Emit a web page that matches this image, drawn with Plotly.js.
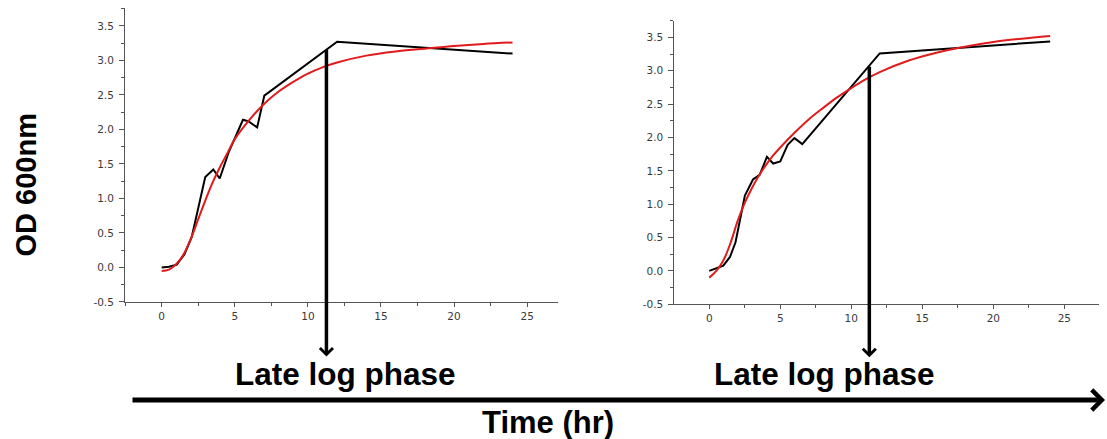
<!DOCTYPE html>
<html>
<head>
<meta charset="utf-8">
<script src="https://cdn.plot.ly/plotly-3.0.1.min.js"></script>
<style>html,body{margin:0;padding:0;background:#fff;}#chart{width:1107px;height:439px;}</style>
</head>
<body>
<div id="chart"></div>
<script>
// ---- data ----
const leftTime  = [0, 0.5, 1.03, 1.55, 2.05, 2.98, 3.53, 3.97, 4.6, 5.56, 5.92, 6.53, 7.02, 12.0, 24.0];
const leftOD    = [0.0, 0.01, 0.04, 0.19, 0.44, 1.31, 1.42, 1.29, 1.68, 2.14, 2.12, 2.03, 2.49, 3.27, 3.10];
const fitTime   = [0, 0.5, 1, 1.5, 2, 2.5, 3, 3.5, 4, 4.5, 5, 6, 7, 8, 9, 10, 11, 12, 14, 16, 18, 20, 22, 24];
const leftFit   = [-0.05, -0.03, 0.05, 0.19, 0.42, 0.70, 0.98, 1.24, 1.46, 1.66, 1.86, 2.14, 2.37, 2.55, 2.69, 2.81, 2.90, 2.97, 3.07, 3.13, 3.17, 3.21, 3.24, 3.26];
const rightTime = [0, 0.99, 1.46, 1.85, 2.51, 3.08, 3.55, 4.06, 4.5, 5.0, 5.52, 6.0, 6.55, 12.0, 24.0];
const rightOD   = [0.0, 0.08, 0.21, 0.43, 1.13, 1.37, 1.44, 1.71, 1.61, 1.64, 1.89, 1.99, 1.90, 3.26, 3.44];
const rightFit  = [-0.10, 0.00, 0.16, 0.42, 0.75, 1.02, 1.24, 1.43, 1.59, 1.73, 1.85, 2.07, 2.27, 2.44, 2.60, 2.74, 2.87, 2.98, 3.15, 3.27, 3.36, 3.43, 3.48, 3.52];
const yTickVals = [-0.5, 0, 0.5, 1, 1.5, 2, 2.5, 3, 3.5];
const yTickText = ['-0.5', '0.0', '0.5', '1.0', '1.5', '2.0', '2.5', '3.0', '3.5'];
const xTickVals = [0, 5, 10, 15, 20, 25];
const xTickText = ['0', '5', '10', '15', '20', '25'];
const lateLogLeft  = {x: 11.27, y: 3.15};
const lateLogRight = {x: 11.27, y: 3.06};

// ---- traces ----
const black = {color: '#000', width: 2};
const red = {color: '#e01b1b', width: 2, shape: 'spline', smoothing: 1};
const traces = [
  {x: leftTime, y: leftOD, mode: 'lines', line: black, xaxis: 'x', yaxis: 'y', hoverinfo: 'skip'},
  {x: fitTime, y: leftFit, mode: 'lines', line: red, xaxis: 'x', yaxis: 'y', hoverinfo: 'skip'},
  {x: rightTime, y: rightOD, mode: 'lines', line: black, xaxis: 'x2', yaxis: 'y2', hoverinfo: 'skip'},
  {x: fitTime, y: rightFit, mode: 'lines', line: red, xaxis: 'x2', yaxis: 'y2', hoverinfo: 'skip'}
];

const tickFont = {family: 'DejaVu Sans, sans-serif', size: 10.5, color: '#3a3a3a'};
function xAxis(domain, range, anchor) {
  return {domain, range, anchor, showline: true, linecolor: '#555', linewidth: 1,
    ticks: 'outside', ticklen: 4, tickwidth: 1, tickcolor: '#555', showgrid: false, zeroline: false,
    tickmode: 'array', tickvals: xTickVals, ticktext: xTickText, tickfont: tickFont, fixedrange: true,
    minor: {tickmode: 'linear', tick0: 0, dtick: 2.5, ticks: 'outside', ticklen: 2.5, tickcolor: '#555', showgrid: false}};
}
function yAxis(domain, range, anchor) {
  return {domain, range, anchor, showline: true, linecolor: '#555', linewidth: 1,
    ticks: 'outside', ticklen: 5, tickwidth: 1, tickcolor: '#555', showgrid: false, zeroline: false,
    tickmode: 'array', tickvals: yTickVals, ticktext: yTickText, tickfont: tickFont, fixedrange: true,
    ticklabelstandoff: 3,
    minor: {tickmode: 'linear', tick0: 0, dtick: 0.25, ticks: 'outside', ticklen: 3, tickcolor: '#555', showgrid: false}};
}

const bigFont = {family: 'Liberation Sans, Arial, sans-serif', size: 31.5, color: '#000', weight: 'bold'};
const layout = {
  width: 1107, height: 439,
  margin: {l: 0, r: 0, t: 0, b: 0},
  paper_bgcolor: '#fff', plot_bgcolor: '#fff',
  showlegend: false,
  xaxis: xAxis([0.11292, 0.50407], [-2.51, 27.11], 'y'),
  yaxis: yAxis([0.31207, 0.98178], [-0.5, 3.76], 'x'),
  xaxis2: xAxis([0.60913, 0.99304], [-2.46, 27.46], 'y2'),
  yaxis2: yAxis([0.30683, 0.95285], [-0.5, 3.75], 'x2'),
  annotations: [
    {xref: 'x', yref: 'y', x: lateLogLeft.x, y: lateLogLeft.y, text: '', showarrow: true,
     arrowside: 'start', startarrowhead: 4, startarrowsize: 0.72, arrowwidth: 3.5, arrowcolor: '#000',
     axref: 'pixel', ayref: 'pixel', ax: 0, ay: 308},
    {xref: 'x2', yref: 'y2', x: lateLogRight.x, y: lateLogRight.y, text: '', showarrow: true,
     arrowside: 'start', startarrowhead: 4, startarrowsize: 0.72, arrowwidth: 3.5, arrowcolor: '#000',
     axref: 'pixel', ayref: 'pixel', ax: 0, ay: 292},
    {xref: 'paper', yref: 'paper', x: 1105 / 1107, y: 1 - 400 / 439, text: '', showarrow: true,
     arrowhead: 4, arrowsize: 0.78, arrowwidth: 5, arrowcolor: '#000', axref: 'pixel', ayref: 'pixel', ax: -974, ay: 0},
    {xref: 'paper', yref: 'paper', x: 345 / 1107, y: 1 - 374 / 439, text: 'Late log phase', showarrow: false,
     xanchor: 'center', yanchor: 'middle', font: bigFont},
    {xref: 'paper', yref: 'paper', x: 824 / 1107, y: 1 - 374 / 439, text: 'Late log phase', showarrow: false,
     xanchor: 'center', yanchor: 'middle', font: bigFont},
    {xref: 'paper', yref: 'paper', x: 548 / 1107, y: 1 - 422 / 439, text: 'Time (hr)', showarrow: false,
     xanchor: 'center', yanchor: 'middle', font: Object.assign({}, bigFont, {size: 31})},
    {xref: 'paper', yref: 'paper', x: 25 / 1107, y: 1 - 185.5 / 439, text: 'OD 600nm', showarrow: false,
     textangle: -90, xanchor: 'center', yanchor: 'middle', font: Object.assign({}, bigFont, {size: 29})}
  ]
};

Plotly.newPlot('chart', traces, layout, {staticPlot: true, displayModeBar: false});
</script>
</body>
</html>
